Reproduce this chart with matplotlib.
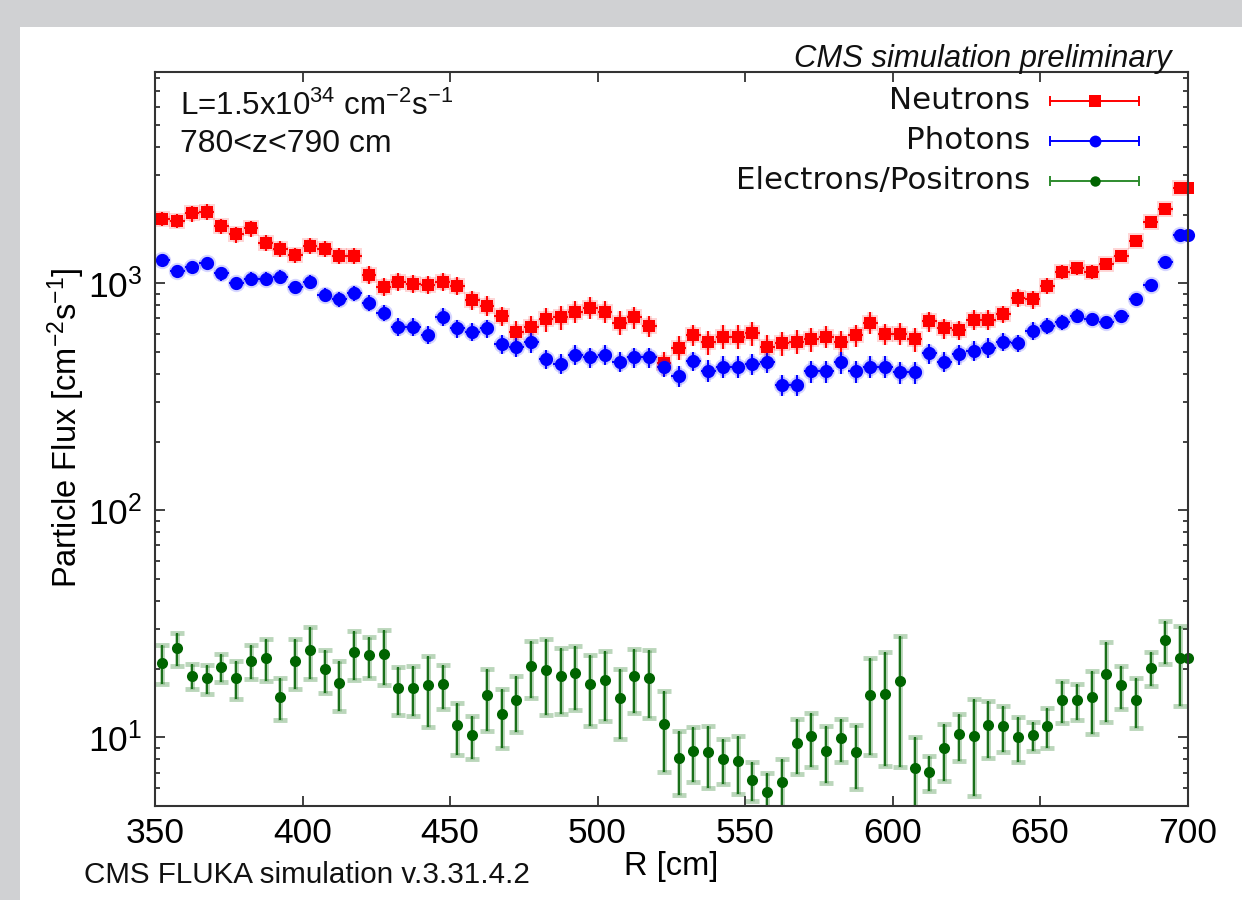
import numpy as np
import matplotlib
matplotlib.use("Agg")
import matplotlib.pyplot as plt
from matplotlib.patches import Rectangle

plt.rcParams['font.family'] = ['Liberation Sans', 'DejaVu Sans']
plt.rcParams['mathtext.fontset'] = 'custom'
plt.rcParams['mathtext.rm'] = 'Liberation Sans'
plt.rcParams['mathtext.it'] = 'Liberation Sans:italic'
plt.rcParams['mathtext.bf'] = 'Liberation Sans:bold'

# radial bins, 5 cm wide, from 350 to 700 cm
bin_width = 5.0
r_centers = np.arange(352.5, 700, bin_width)
r_edge = 700.0

# particle flux [cm^-2 s^-1]
neutrons = [1920, 1880, 2030, 2065, 1786, 1642, 1744, 1507, 1418, 1331,
            1459, 1418, 1318, 1318, 1088, 966, 1016, 993, 983, 1016,
            975, 845, 797, 718, 612, 644, 695, 710, 750, 782,
            750, 671, 710, 649, 445, 521, 593, 551, 582, 582,
            603, 526, 545, 554, 569, 582, 551, 589, 671, 598,
            600, 567, 680, 634, 623, 690, 690, 731, 864, 851,
            977, 1124, 1164, 1124, 1216, 1322, 1534, 1866, 2115, 2632]
neutrons_err_pct = [7, 7, 8, 8, 8, 8, 8, 8, 8, 8, 8, 8, 8, 8, 9, 9, 9, 9, 9, 9,
                    9, 10, 10, 10, 11, 11, 12, 12, 11, 11, 11, 12, 11, 11, 12, 12, 11, 12, 12, 12,
                    12, 12, 12, 12, 12, 11, 12, 11, 11, 11, 11, 12, 10, 10, 10, 10, 10, 9, 9, 9,
                    8, 7, 7, 7, 6, 6, 6, 5, 3, 2]

photons = [1266, 1136, 1183, 1232, 1106, 1000, 1044, 1044, 1069, 960,
           1016, 888, 851, 904, 822, 743, 644, 644, 593, 713,
           634, 612, 634, 540, 526, 550, 464, 442, 484, 473,
           484, 452, 473, 473, 430, 391, 455, 412, 430, 430,
           442, 452, 357, 357, 409, 409, 448, 409, 430, 430,
           406, 406, 492, 452, 487, 504, 521, 554, 545, 617,
           651, 674, 721, 695, 674, 721, 851, 983, 1244, 1630]
photons_err_pct = [6, 6, 6, 6, 7, 7, 7, 7, 7, 7, 7, 7, 8, 8, 8, 8, 9, 9, 9, 9,
                   9, 9, 9, 10, 10, 10, 10, 10, 10, 10, 10, 10, 10, 10, 10, 11, 10, 11, 11, 11,
                   11, 11, 11, 11, 11, 11, 11, 11, 11, 11, 11, 11, 10, 10, 10, 10, 10, 9, 9, 9,
                   8, 8, 7, 7, 7, 6, 5, 4, 3, 2]

electrons = [21.3, 24.7, 18.7, 18.2, 20.5, 18.2, 21.7, 22.4, 15.1, 21.7,
             24.3, 20.0, 17.4, 23.7, 23.0, 23.4, 16.5, 16.5, 17.0, 17.1,
             11.3, 10.2, 15.4, 12.7, 14.6, 20.7, 19.8, 18.7, 19.2, 17.1,
             17.9, 14.9, 18.7, 18.2, 11.5, 8.1, 8.73, 8.6, 8.0, 7.9,
             6.5, 5.77, 6.34, 9.44, 10.1, 8.73, 9.9, 8.6, 15.4, 15.6,
             17.7, 7.33, 7.06, 8.95, 10.3, 10.1, 11.3, 11.2, 10.0, 10.2,
             11.2, 14.6, 14.6, 15.0, 19.0, 17.0, 14.6, 20.3, 26.8, 22.3]
electrons_err = [4.15, 4.15, 2.45, 2.7, 2.9, 3.5, 3.7, 4.75, 3.15, 5.4,
                 6.3, 4.35, 4.35, 5.85, 4.65, 6.45, 3.9, 4.1, 5.9, 3.8,
                 2.9, 2.2, 4.7, 3.7, 4.05, 5.85, 7.25, 6.05, 5.95, 5.85,
                 6.1, 5.05, 5.9, 6.05, 4.45, 2.55, 2.35, 2.6, 1.8, 2.25,
                 1.25, 1.2, 1.7, 2.55, 2.7, 2.45, 2.15, 2.7, 7.0, 8.15,
                 10.3, 2.7, 1.25, 2.5, 2.4, 4.6, 3.2, 2.6, 2.25, 1.45,
                 2.25, 3.05, 2.65, 4.7, 7.3, 3.6, 3.6, 3.4, 5.75, 8.6]

series_labels = ["Neutrons", "Photons", "Electrons/Positrons"]

W, H = 1242, 900
fig = plt.figure(figsize=(W / 100, H / 100), dpi=100, facecolor='#d0d1d3')
fig.add_artist(Rectangle((20 / W, 0), 1, 1 - 27 / H, transform=fig.transFigure,
                         facecolor='white', edgecolor='none', zorder=-1))
ax = fig.add_axes([155 / W, 1 - 805.7 / H, 1032.5 / W, 733.4 / H])

n = np.array(neutrons, dtype=float)
n_err = n * np.array(neutrons_err_pct) / 100
p = np.array(photons, dtype=float)
p_err = p * np.array(photons_err_pct) / 100
e = np.array(electrons)
e_err = np.array(electrons_err)

# soft halo under the red/blue points, then the points themselves
for vals, errs, col, mk, ms in [(n, n_err, 'red', 's', 9), (p, p_err, 'blue', 'o', 9.5)]:
    ax.errorbar(r_centers, vals, xerr=bin_width / 2, yerr=errs, fmt=mk, color=col,
                ms=ms + 3, mew=0, elinewidth=4, capsize=6.5, capthick=4, alpha=0.16)
    ax.errorbar(r_centers, vals, xerr=bin_width / 2, yerr=errs, fmt=mk, color=col,
                ms=ms, mew=0, elinewidth=1.4, capsize=5, capthick=1.4)
    ax.plot([r_edge], [vals[-1]], marker=mk, color=col, ms=ms, mew=0, clip_on=False)

ax.errorbar(r_centers, e, yerr=e_err, fmt='none', ecolor='#1e7a1e', alpha=0.3,
            elinewidth=3.5, capsize=5, capthick=3.5)
ax.errorbar(r_centers, e, yerr=e_err, fmt='o', color='#006400', ecolor='#1a701a',
            ms=8, mew=0, elinewidth=1.5, capsize=4.5, capthick=1.5)
ax.plot([r_edge], [e[-1]], 'o', color='#006400', ms=8, mew=0, clip_on=False)

ax.set_xlim(350, 700)
ax.set_ylim(5, 8500)
ax.set_yscale('log')
ax.set_xticks(np.arange(350, 701, 50))

ax.tick_params(which='both', direction='in', top=True, right=True,
               labelsize=25.5, width=1.3, color='#333333')
ax.tick_params(which='major', length=7.5)
ax.tick_params(which='minor', length=3.8)
ax.tick_params(axis='x', pad=8)
ax.tick_params(axis='y', pad=9)
for sp in ax.spines.values():
    sp.set_linewidth(1.5)
    sp.set_color('#333333')

ax.set_xlabel('R [cm]', fontsize=23.5)
ax.xaxis.set_label_coords(0.5, -0.062)
ax.set_ylabel('Particle Flux [cm$^{-2}$s$^{-1}$]', fontsize=23.5)
ax.yaxis.set_label_coords(-0.066, 0.516)

# hand-placed legend in the top right
leg_y = [0.9609, 0.9064, 0.8518]
leg_col = ['red', 'blue', '#2e8b2e']
leg_mk = [('s', 'red', 8), ('o', 'blue', 8.5), ('o', '#006400', 7.5)]
for lab, y, lc, (mk, mc, ms) in zip(series_labels, leg_y, leg_col, leg_mk):
    ax.text(0.8475, y, lab, transform=ax.transAxes, ha='right', va='center',
            fontsize=22.3, family='DejaVu Sans', color='#111111')
    ax.plot([0.8668, 0.953], [y, y], transform=ax.transAxes, color=lc, lw=1.4,
            marker='|', ms=7, mew=1.4, clip_on=False)
    ax.plot([0.9104], [y], transform=ax.transAxes, marker=mk, color=mc, ms=ms,
            mew=0, clip_on=False)

ax.text(0.0242, 0.9418, 'L=1.5x10$^{34}$ cm$^{-2}$s$^{-1}$', transform=ax.transAxes,
        ha='left', va='baseline', fontsize=22.5, color='#111111')
ax.text(0.0242, 0.8917, '780<z<790 cm', transform=ax.transAxes,
        ha='left', va='baseline', fontsize=23, color='#111111')

fig.text(1171.7 / W, 1 - 66.7 / H, 'CMS simulation preliminary', ha='right',
         va='baseline', fontsize=22.3, style='italic', color='#111111')
fig.text(84 / W, 1 - 883 / H, 'CMS FLUKA simulation v.3.31.4.2', ha='left',
         va='baseline', fontsize=21.3, color='#111111')

fig.savefig('out.png', dpi=100, facecolor=fig.get_facecolor())
